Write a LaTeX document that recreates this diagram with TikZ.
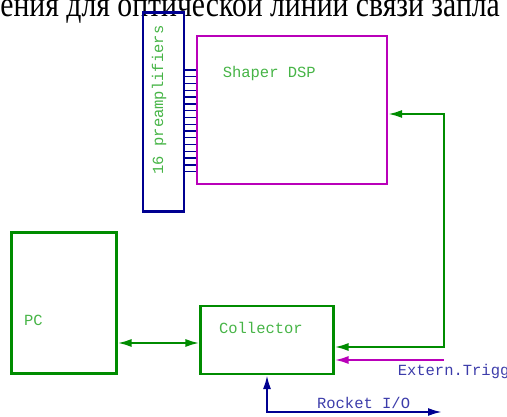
\documentclass[tikz,border=0pt]{standalone}
\usepackage{fontspec}
\setmainfont{Liberation Serif}
\setmonofont{Liberation Mono}
\usetikzlibrary{arrows.meta}
\definecolor{boxgreen}{RGB}{0,140,0}
\definecolor{txtgreen}{RGB}{70,180,70}
\definecolor{boxblue}{RGB}{0,0,145}
\definecolor{txtblue}{RGB}{60,60,170}
\definecolor{boxmag}{RGB}{185,0,185}
\begin{document}
\begin{tikzpicture}[x=1pt, y=-1pt, line width=2.1pt,
    every node/.append style={inner sep=0pt, font=\ttfamily\fontsize{15.5}{16}\selectfont},
    block/.style={draw, rectangle},
    lbl/.style={text=txtgreen, anchor=west},
    tip/.style={{Latex[length=14pt,width=8pt]}-{Latex[length=14pt,width=8pt]}}]
  \useasboundingbox (0,0) rectangle (507,417);
  \clip (0,0) rectangle (507,417);
  % caption cut off at the top
  \node[anchor=base east, font=\fontsize{29.7}{30}\selectfont] (caption) at (501,17) {\scalebox{1}[1.2]{ения для оптической линии связи запла}};
  % blocks
  \node[block, boxblue, minimum width=41pt, minimum height=199pt] (preamp) at (163.8,112) {};
  \node[block, boxmag, minimum width=190pt, minimum height=148pt] (dsp) at (292,110) {};
  \node[block, boxgreen, minimum width=133pt, minimum height=68pt] (coll) at (267,340) {};
  \node[block, boxgreen, minimum width=105pt, minimum height=141pt] (pc) at (64,303) {};
  \node[lbl, rotate=90, anchor=center] (preamptxt) at (159,100) {16 preamplifiers};
  \node[lbl] (dsptxt) at (221.7,73) {Shaper DSP};
  \node[lbl] (colltxt) at (218,328) {Collector};
  \node[lbl] (pctxt) at (23,320) {PC};
  \node[anchor=west, text=txtblue] (trigtxt) at (396.7,371) {Extern.Trigger};
  \node[anchor=west, text=txtblue] (riotxt) at (316,403) {Rocket I/O};
  % 16 channels
  \foreach \i in {0,...,15}
    \draw[boxblue, line width=1.4pt] (preamp.east |- 0,70+\i*6.78) -- (dsp.west |- 0,70+\i*6.78);
  % connections
  \coordinate (back) at (444,114);
  \coordinate (trig) at (444,360);
  \coordinate (rio) at (442,412);
  \draw[boxgreen, tip] (coll.east |- 0,347) -| (back) -- (dsp.east |- back);
  \draw[boxmag, -{Latex[length=14pt,width=8pt]}] (trig) -- (coll.east |- trig);
  \draw[boxblue, tip] (coll.south) -- (coll.south |- rio) -- (rio);
  \draw[boxgreen, tip] (pc.east |- 0,343) -- (coll.west |- 0,343);
\end{tikzpicture}
\end{document}
